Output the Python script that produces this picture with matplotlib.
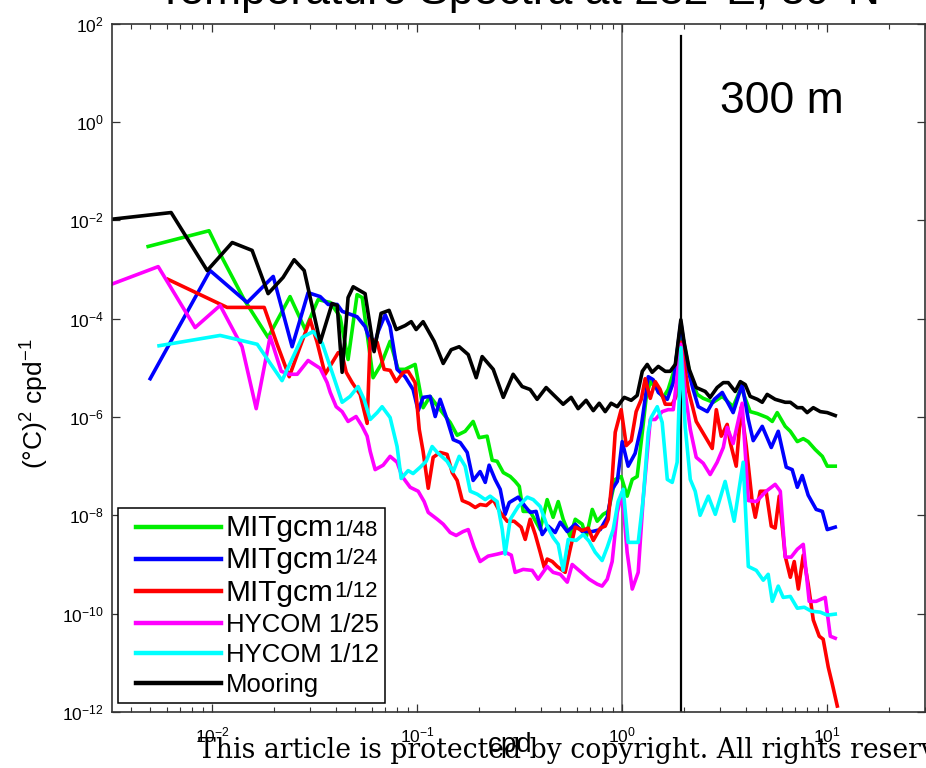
import numpy as np
import matplotlib
matplotlib.use("Agg")
import matplotlib.pyplot as plt
from matplotlib.ticker import LogLocator, NullLocator, LogFormatterSciNotation
from matplotlib.legend_handler import HandlerLine2D
from matplotlib.lines import Line2D

plt.rcParams['font.family'] = ['Liberation Sans', 'DejaVu Sans']

# temperature spectra at 300 m, read as log10(cpd) and log10((degC)^2/cpd)
mit48_logf = [-2.312, -2.015, -1.951, -1.844, -1.727, -1.620, -1.546, -1.483, -1.424, -1.376,
              -1.337, -1.293, -1.268, -1.215, -1.176, -1.132, -1.093, -1.059, -1.010, -0.971,
              -0.937, -0.888, -0.839, -0.805, -0.766, -0.727, -0.698, -0.659, -0.634, -0.610,
              -0.580, -0.546, -0.522, -0.502, -0.483, -0.449, -0.400, -0.366, -0.337, -0.312,
              -0.288, -0.254, -0.229, -0.195, -0.176, -0.146, -0.122, -0.093, -0.068, -0.034,
              -0.005, 0.024, 0.049, 0.073, 0.098, 0.117, 0.137, 0.171, 0.200, 0.224,
              0.259, 0.286, 0.332, 0.366, 0.395, 0.444, 0.488, 0.541, 0.580, 0.624,
              0.659, 0.707, 0.732, 0.756, 0.795, 0.820, 0.854, 0.883, 0.907, 0.941,
              0.976, 1.000, 1.039]
mit48_logS = [-2.53, -2.21, -2.76, -3.61, -4.38, -3.55, -4.22, -3.61, -3.67, -3.96,
              -4.83, -3.51, -3.57, -5.20, -4.93, -4.46, -5.03, -5.03, -4.93, -5.81,
              -5.58, -5.85, -6.11, -6.37, -6.29, -6.09, -6.42, -6.39, -6.88, -6.90,
              -7.13, -7.21, -7.31, -7.41, -7.92, -7.92, -8.29, -7.68, -8.04, -7.72,
              -8.08, -8.43, -8.08, -8.18, -8.45, -7.88, -8.12, -7.98, -7.92, -7.27,
              -7.21, -7.61, -7.27, -7.21, -6.31, -5.60, -5.28, -5.44, -5.60, -5.44,
              -4.97, -4.16, -5.18, -5.54, -5.62, -5.70, -5.58, -5.79, -5.40, -5.89,
              -5.93, -6.01, -6.09, -5.91, -6.19, -6.29, -6.50, -6.44, -6.50, -6.66,
              -6.80, -7.00, -7.00]

mit24_logf = [-2.302, -2.010, -1.829, -1.702, -1.610, -1.532, -1.473, -1.434, -1.390, -1.366,
              -1.293, -1.254, -1.215, -1.190, -1.156, -1.132, -1.098, -1.059, -1.020, -0.995,
              -0.971, -0.937, -0.912, -0.888, -0.854, -0.824, -0.790, -0.756, -0.727, -0.693,
              -0.668, -0.649, -0.620, -0.595, -0.571, -0.551, -0.507, -0.473, -0.449, -0.420,
              -0.390, -0.361, -0.327, -0.302, -0.268, -0.229, -0.195, -0.146, -0.107, -0.073,
              -0.049, -0.024, 0.000, 0.029, 0.063, 0.093, 0.127, 0.151, 0.176, 0.220,
              0.249, 0.286, 0.317, 0.346, 0.371, 0.415, 0.449, 0.488, 0.541, 0.585,
              0.615, 0.639, 0.683, 0.727, 0.761, 0.800, 0.829, 0.854, 0.878, 0.907,
              0.946, 0.976, 1.000, 1.039]
mit24_logS = [-5.22, -3.02, -3.67, -3.14, -4.57, -3.47, -3.55, -3.71, -3.71, -3.85,
              -3.96, -4.16, -4.63, -4.26, -3.92, -4.16, -5.03, -5.18, -5.44, -5.87,
              -5.60, -5.58, -5.99, -5.64, -6.05, -6.46, -6.52, -6.72, -7.29, -7.11,
              -7.33, -6.98, -7.27, -7.47, -7.98, -7.74, -7.63, -7.82, -7.94, -7.92,
              -8.39, -8.22, -8.35, -8.14, -8.33, -8.18, -8.33, -8.33, -8.29, -8.04,
              -7.47, -7.31, -6.50, -7.00, -6.74, -6.19, -5.18, -5.24, -5.50, -5.64,
              -5.30, -4.08, -4.97, -5.44, -5.79, -5.89, -5.64, -5.50, -5.91, -5.34,
              -6.05, -6.48, -6.19, -6.62, -6.29, -7.02, -7.07, -7.43, -7.19, -7.59,
              -7.88, -7.92, -8.29, -8.24]

mit12_logf = [-2.215, -1.927, -1.746, -1.683, -1.624, -1.571, -1.522, -1.488, -1.449, -1.385,
              -1.366, -1.346, -1.317, -1.278, -1.244, -1.229, -1.195, -1.161, -1.132, -1.102,
              -1.068, -1.044, -1.010, -0.990, -0.971, -0.946, -0.922, -0.888, -0.854, -0.829,
              -0.805, -0.780, -0.746, -0.717, -0.693, -0.663, -0.629, -0.595, -0.561, -0.527,
              -0.493, -0.473, -0.449, -0.424, -0.400, -0.380, -0.366, -0.341, -0.317, -0.278,
              -0.254, -0.229, -0.195, -0.166, -0.141, -0.107, -0.083, -0.068, -0.049, -0.034,
              -0.005, 0.020, 0.044, 0.068, 0.093, 0.112, 0.137, 0.161, 0.185, 0.210,
              0.244, 0.263, 0.286, 0.322, 0.361, 0.395, 0.439, 0.459, 0.483, 0.512,
              0.527, 0.556, 0.580, 0.605, 0.634, 0.649, 0.673, 0.702, 0.727, 0.746,
              0.766, 0.795, 0.820, 0.839, 0.859, 0.883, 0.907, 0.932, 0.961, 0.980,
              1.005, 1.024, 1.049]
mit12_logS = [-3.20, -3.77, -3.77, -4.52, -5.18, -4.57, -4.02, -4.48, -5.13, -4.69,
              -4.73, -5.09, -5.30, -5.54, -6.13, -4.40, -4.48, -5.03, -5.05, -5.28,
              -5.09, -5.07, -5.30, -6.25, -6.70, -7.45, -6.82, -6.72, -6.76, -7.13,
              -7.29, -7.70, -7.76, -7.84, -7.78, -7.80, -7.68, -7.94, -8.12, -8.12,
              -8.24, -8.49, -8.08, -8.39, -8.75, -9.06, -8.89, -8.94, -9.04, -9.16,
              -8.69, -8.24, -8.31, -8.26, -8.51, -8.26, -8.22, -8.08, -7.25, -6.31,
              -5.85, -6.58, -6.48, -5.89, -5.64, -5.22, -5.62, -5.28, -5.44, -5.74,
              -5.74, -5.58, -4.48, -5.44, -6.09, -6.33, -6.64, -5.85, -6.39, -6.15,
              -6.52, -7.00, -5.81, -6.60, -7.72, -8.04, -7.51, -7.51, -8.22, -8.26,
              -7.61, -8.83, -9.26, -8.94, -9.50, -8.81, -9.40, -10.13, -10.46, -10.52,
              -11.09, -11.42, -11.88]

hy25_logf = [-2.498, -2.263, -2.083, -1.961, -1.854, -1.785, -1.717, -1.663, -1.624, -1.585,
             -1.532, -1.473, -1.439, -1.424, -1.395, -1.366, -1.337, -1.298, -1.268, -1.244,
             -1.229, -1.205, -1.166, -1.132, -1.098, -1.073, -1.034, -0.995, -0.966, -0.946,
             -0.902, -0.873, -0.839, -0.810, -0.776, -0.751, -0.722, -0.693, -0.654, -0.610,
             -0.571, -0.541, -0.522, -0.483, -0.439, -0.410, -0.366, -0.337, -0.302, -0.268,
             -0.244, -0.205, -0.161, -0.122, -0.098, -0.073, -0.049, -0.024, 0.000, 0.024,
             0.049, 0.078, 0.102, 0.137, 0.161, 0.195, 0.224, 0.249, 0.286, 0.307,
             0.332, 0.361, 0.395, 0.429, 0.463, 0.493, 0.512, 0.541, 0.585, 0.615,
             0.654, 0.702, 0.746, 0.771, 0.795, 0.824, 0.854, 0.883, 0.912, 0.946,
             0.990, 1.015, 1.039]
hy25_logS = [-3.31, -2.94, -4.18, -3.73, -4.57, -5.83, -4.36, -5.07, -5.13, -5.13,
             -4.85, -5.01, -5.30, -5.50, -5.79, -5.89, -6.09, -5.99, -6.19, -6.39,
             -6.70, -7.07, -6.98, -6.80, -6.92, -7.21, -7.43, -7.51, -7.72, -7.94,
             -8.08, -8.18, -8.35, -8.41, -8.33, -8.29, -8.65, -8.94, -8.83, -8.79,
             -8.75, -8.81, -9.16, -9.10, -9.12, -9.30, -9.04, -9.16, -9.20, -9.36,
             -9.00, -9.14, -9.30, -9.40, -9.44, -9.30, -8.94, -7.94, -7.53, -8.75,
             -9.50, -9.16, -7.68, -6.05, -6.05, -5.89, -5.85, -5.85, -4.52, -5.50,
             -6.25, -6.82, -6.94, -7.17, -6.92, -6.62, -6.21, -6.54, -5.72, -7.70,
             -7.72, -7.51, -7.37, -7.51, -8.85, -8.85, -8.69, -8.59, -9.75, -9.75,
             -9.67, -10.46, -10.50]

hy12_logf = [-2.259, -1.961, -1.780, -1.659, -1.561, -1.507, -1.463, -1.410, -1.366, -1.327,
             -1.288, -1.259, -1.229, -1.195, -1.171, -1.132, -1.098, -1.078, -1.044, -1.020,
             -0.985, -0.956, -0.927, -0.902, -0.854, -0.824, -0.795, -0.766, -0.741, -0.707,
             -0.668, -0.644, -0.610, -0.585, -0.571, -0.546, -0.507, -0.463, -0.434, -0.400,
             -0.366, -0.337, -0.312, -0.288, -0.263, -0.224, -0.190, -0.161, -0.132, -0.098,
             -0.073, -0.044, -0.020, 0.005, 0.029, 0.078, 0.102, 0.127, 0.141, 0.171,
             0.195, 0.220, 0.244, 0.268, 0.286, 0.307, 0.332, 0.356, 0.380, 0.420,
             0.454, 0.502, 0.546, 0.590, 0.615, 0.654, 0.688, 0.712, 0.732, 0.761,
             0.785, 0.820, 0.854, 0.888, 0.922, 0.966, 1.000, 1.039]
hy12_logS = [-4.55, -4.34, -4.52, -5.26, -4.38, -4.26, -4.50, -5.15, -5.70, -5.58,
             -5.38, -5.64, -6.05, -5.91, -5.79, -6.01, -6.60, -7.25, -7.09, -7.15,
             -7.02, -6.90, -6.60, -6.72, -6.90, -7.11, -6.80, -7.00, -7.51, -7.57,
             -7.68, -7.61, -7.72, -8.29, -8.79, -8.08, -7.82, -7.63, -7.68, -7.82,
             -8.22, -8.45, -8.59, -9.12, -8.49, -8.51, -8.39, -8.53, -8.75, -8.92,
             -8.65, -8.29, -7.72, -7.47, -8.55, -8.55, -7.68, -6.31, -6.01, -5.79,
             -6.11, -7.27, -7.33, -6.92, -4.59, -6.19, -7.27, -7.51, -8.00, -7.61,
             -7.98, -7.31, -8.12, -6.92, -9.04, -9.12, -9.32, -9.20, -9.75, -9.44,
             -9.67, -9.65, -9.89, -9.87, -9.95, -9.97, -10.03, -10.01]

moor_logf = [-2.498, -2.200, -2.024, -1.902, -1.805, -1.727, -1.654, -1.600, -1.551, -1.473,
             -1.415, -1.390, -1.366, -1.337, -1.312, -1.254, -1.210, -1.176, -1.137, -1.102,
             -1.059, -1.029, -1.005, -0.971, -0.917, -0.873, -0.834, -0.795, -0.751, -0.712,
             -0.683, -0.629, -0.580, -0.532, -0.488, -0.449, -0.415, -0.371, -0.337, -0.288,
             -0.249, -0.215, -0.176, -0.141, -0.112, -0.083, -0.054, -0.024, 0.010, 0.044,
             0.073, 0.098, 0.122, 0.146, 0.176, 0.210, 0.234, 0.259, 0.286, 0.302,
             0.327, 0.361, 0.405, 0.429, 0.463, 0.493, 0.517, 0.551, 0.576, 0.600,
             0.624, 0.659, 0.683, 0.707, 0.746, 0.795, 0.820, 0.854, 0.878, 0.902,
             0.932, 0.966, 1.000, 1.039]
moor_logS = [-1.98, -1.84, -3.02, -2.45, -2.61, -3.49, -3.16, -2.80, -3.02, -4.48,
             -3.69, -3.73, -5.09, -3.57, -3.35, -3.49, -4.67, -3.89, -3.83, -4.22,
             -4.14, -4.06, -4.22, -4.06, -4.46, -4.91, -4.63, -4.57, -4.73, -5.20,
             -4.77, -5.03, -5.60, -5.13, -5.38, -5.44, -5.64, -5.40, -5.54, -5.74,
             -5.60, -5.83, -5.66, -5.87, -5.72, -5.89, -5.72, -5.79, -5.60, -5.66,
             -5.56, -5.07, -4.93, -5.09, -4.97, -5.07, -5.07, -4.93, -4.02, -4.48,
             -5.03, -5.40, -5.48, -5.60, -5.40, -5.30, -5.30, -5.48, -5.28, -5.34,
             -5.58, -5.64, -5.70, -5.54, -5.64, -5.70, -5.70, -5.81, -5.81, -5.91,
             -5.81, -5.89, -5.91, -5.97]

labels = ['MITgcm', 'MITgcm', 'MITgcm', 'HYCOM 1/25', 'HYCOM 1/12', 'Mooring']
resolutions = ['1/48', '1/24', '1/12']
colors = ['#00ee00', '#0000ff', '#ff0000', '#ff00ff', '#00ffff', '#000000']
series = [(mit48_logf, mit48_logS), (mit24_logf, mit24_logS), (mit12_logf, mit12_logS),
          (hy25_logf, hy25_logS), (hy12_logf, hy12_logS), (moor_logf, moor_logS)]

f_inertial = 1.0     # cpd
f_m2 = 1.932         # semidiurnal tide, cpd


class RowLine(HandlerLine2D):
    # legend line sitting near the middle of the capitals
    def create_artists(self, legend, orig_handle, xdescent, ydescent,
                       width, height, fontsize, trans):
        arts = super().create_artists(legend, orig_handle, xdescent, ydescent,
                                      width, height, fontsize, trans)
        for a in arts:
            a.set_ydata(np.full(len(a.get_ydata()), 0.36 * fontsize))
        return arts


fig = plt.figure(figsize=(9.26, 7.68), dpi=100)
ax = fig.add_axes([0.121, 0.073, 0.878, 0.896])

ax.axvline(f_inertial, color='0.35', lw=1.1, zorder=1)
ax.axvline(f_m2, ymax=0.9826, color='k', lw=1.6, zorder=1)

for (lf, ls), lab, c in zip(series, labels, colors):
    ax.plot(10 ** np.array(lf), 10 ** np.array(ls), color=c, lw=2.6, label=lab)

ax.set_xscale('log')
ax.set_yscale('log')
ax.set_xlim(3.25e-3, 30)
ax.set_ylim(1e-12, 1e2)

ax.yaxis.set_major_locator(LogLocator(base=100.0))
ax.yaxis.set_major_formatter(LogFormatterSciNotation(base=10.0))
ax.yaxis.set_minor_locator(NullLocator())
ax.xaxis.set_major_locator(LogLocator(base=10.0))
ax.xaxis.set_minor_locator(LogLocator(base=10.0, subs=np.arange(2, 10), numticks=20))

ax.tick_params(which='both', direction='in', top=True, right=True, colors='0.2',
               labelcolor='k')
ax.tick_params(which='major', length=6, width=0.9, labelsize=12.5)
ax.tick_params(which='minor', length=3.5, width=0.8)
ax.tick_params(axis='x', which='major', pad=10)
ax.tick_params(axis='y', which='major', pad=6)
for sp in ax.spines.values():
    sp.set_color('0.2')
    sp.set_linewidth(1.2)

ax.set_title('Temperature Spectra at 282°E, 39°N', fontsize=32, y=1.029, pad=0)
ax.text(0.748, 0.871, '300 m', transform=ax.transAxes, fontsize=32, va='baseline')

ax.set_xlabel('cpd', fontsize=20)
ax.xaxis.set_label_coords(0.49, -0.029)
ax.set_ylabel('(°C)$^{\\mathregular{2}}$ cpd$^{\\mathregular{-1}}$', fontsize=19)
ax.yaxis.set_label_coords(-0.076, 0.448)

leg = ax.legend(loc='lower left', bbox_to_anchor=(0.0074, 0.0131), borderaxespad=0,
                fontsize=18.5, fancybox=False, framealpha=1, edgecolor='k',
                borderpad=0.23, handlelength=3.77, handleheight=1.06,
                handletextpad=0.2, labelspacing=0.17,
                handler_map={Line2D: RowLine(xpad=0.47)})
leg.get_frame().set_linewidth(1.1)
for h in leg.get_lines():
    h.set_linewidth(3.2)
texts = leg.get_texts()
# resolution tags: the first one sits low, the other two on the baseline
for t, res, dy in zip(texts[:3], resolutions, [0.3, 3.6, 3.6]):
    t.set_fontsize(21.5)
    ax.annotate(res, xy=(1, 0), xycoords=t, xytext=(0, dy), textcoords='offset points',
                fontsize=16, ha='left', va='bottom', zorder=10)

fig.text(0.2138, 0.013, 'This article is protected by copyright. All rights reserved.',
         family='DejaVu Serif', fontsize=19.2, va='baseline')

fig.savefig('out.png', dpi=100)
